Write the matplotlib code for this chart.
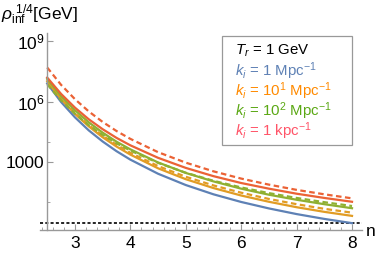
import numpy as np
import matplotlib as mpl
mpl.use('Agg')
import matplotlib.pyplot as plt
from matplotlib.patches import Rectangle

plt.rcParams['font.family'] = ['Liberation Sans', 'DejaVu Sans']
plt.rcParams['mathtext.fontset'] = 'custom'
plt.rcParams['mathtext.rm'] = 'Liberation Sans'
plt.rcParams['mathtext.it'] = 'Liberation Sans:italic'
plt.rcParams['mathtext.bf'] = 'Liberation Sans:bold'
plt.rcParams['lines.scale_dashes'] = False

# n values and log10(rho_inf^(1/4) / GeV)
n = [2.5, 2.75, 3.0, 3.25, 3.5, 3.75, 4.0, 4.5, 5.0, 5.5, 6.0, 6.5, 7.0, 7.5, 8.0]

blue_solid   = [6.90, 5.98, 5.22, 4.57, 4.02, 3.54, 3.12, 2.42, 1.86, 1.40, 1.02, 0.70, 0.42, 0.18, -0.03]
orange_solid = [7.01, 6.13, 5.39, 4.77, 4.23, 3.77, 3.37, 2.69, 2.15, 1.71, 1.34, 1.03, 0.76, 0.53, 0.33]
orange_dash  = [7.03, 6.17, 5.44, 4.83, 4.31, 3.86, 3.46, 2.80, 2.27, 1.84, 1.48, 1.17, 0.91, 0.68, 0.49]
green_solid  = [7.12, 6.27, 5.57, 4.97, 4.46, 4.01, 3.63, 2.98, 2.46, 2.04, 1.68, 1.38, 1.13, 0.91, 0.71]
green_dash   = [6.86, 6.06, 5.40, 4.83, 4.35, 3.93, 3.57, 2.96, 2.47, 2.07, 1.74, 1.46, 1.22, 1.01, 0.82]
red_solid    = [7.19, 6.38, 5.70, 5.12, 4.63, 4.20, 3.83, 3.21, 2.71, 2.30, 1.96, 1.68, 1.43, 1.22, 1.03]
red_dash     = [7.69, 6.83, 6.12, 5.51, 4.99, 4.54, 4.15, 3.49, 2.97, 2.54, 2.18, 1.88, 1.62, 1.40, 1.20]

T_r = 1.0  # GeV, dotted line

legend_lines = [r'$T_r$ = 1 GeV',
                r'$k_i$ = 1 Mpc$^{-1}$',
                r'$k_i$ = 10$^1$ Mpc$^{-1}$',
                r'$k_i$ = 10$^2$ Mpc$^{-1}$',
                r'$k_i$ = 1 kpc$^{-1}$']
legend_colors = ['black', '#5E81B5', '#FF8A00', '#5BA814', '#FF5468']

c_blue, c_orange, c_green, c_red = '#5E81B5', '#E19C24', '#8FB032', '#EB6235'

W, H = 382, 257
fig = plt.figure(figsize=(W / 100, H / 100), dpi=100)
ax = fig.add_axes([40 / W, 1 - 230 / H, 322 / W, 197 / H])

ax.axhline(T_r, color='black', lw=1.2, ls=(0, (2.2, 1.6)), zorder=1)

pw = lambda v: 10 ** np.asarray(v)
ax.plot(n, pw(blue_solid), color=c_blue, lw=1.6)
ax.plot(n, pw(orange_solid), color=c_orange, lw=1.6)
ax.plot(n, pw(orange_dash), color=c_orange, lw=1.6, dashes=(4, 2.5))
ax.plot(n, pw(green_solid), color=c_green, lw=1.6)
ax.plot(n, pw(green_dash), color=c_green, lw=1.6, dashes=(4, 2.5))
ax.plot(n, pw(red_solid), color=c_red, lw=1.6)
ax.plot(n, pw(red_dash), color=c_red, lw=1.6, dashes=(4, 2.5))

ax.set_yscale('log')
ax.set_xlim(2.37, 8.18)
ax.set_ylim(10 ** -0.37, 10 ** 9.4)

for s in ['top', 'right']:
    ax.spines[s].set_visible(False)
ax.spines['left'].set_position(('data', 2.5))
for s in ['left', 'bottom']:
    ax.spines[s].set_color('#999999')
    ax.spines[s].set_linewidth(1.0)

ax.set_xticks([3, 4, 5, 6, 7, 8])
ax.set_xticks([x for x in np.arange(2.4, 8.01, 0.2) if abs(x - round(x)) > 0.05], minor=True)
ax.set_yticks([1e3, 1e6, 1e9])
ax.set_yticklabels(['1000', r'$10^6$', r'$10^9$'])
ax.set_yticks([1e1, 1e4, 1e7], minor=True)
ax.yaxis.set_minor_formatter(mpl.ticker.NullFormatter())
ax.tick_params(which='both', direction='in', color='#999999', labelsize=12.5, labelcolor='black')
ax.tick_params(which='major', length=4, width=0.8)
ax.tick_params(which='minor', length=2.5, width=0.6)
ax.tick_params(axis='y', pad=2)
ax.tick_params(axis='x', pad=4)

fig.text(1 / W, 1 - 15 / H, r'$\rho_{\mathrm{inf}}^{\ 1/4}$[GeV]', fontsize=12.5, va='center', ha='left')
fig.text(366 / W, 1 - 232 / H, 'n', fontsize=12.5, va='center', ha='left')

fig.patches.append(Rectangle((222 / W, 1 - 145 / H), 130 / W, 109 / H, transform=fig.transFigure,
                             facecolor='white', edgecolor='#999999', lw=0.9, zorder=5))
for i, (txt, col) in enumerate(zip(legend_lines, legend_colors)):
    fig.text(235 / W, 1 - (50.5 + 20.3 * i) / H, txt, color=col, fontsize=10.8,
             va='center', ha='left', zorder=6)

fig.savefig('out.png', dpi=100)
